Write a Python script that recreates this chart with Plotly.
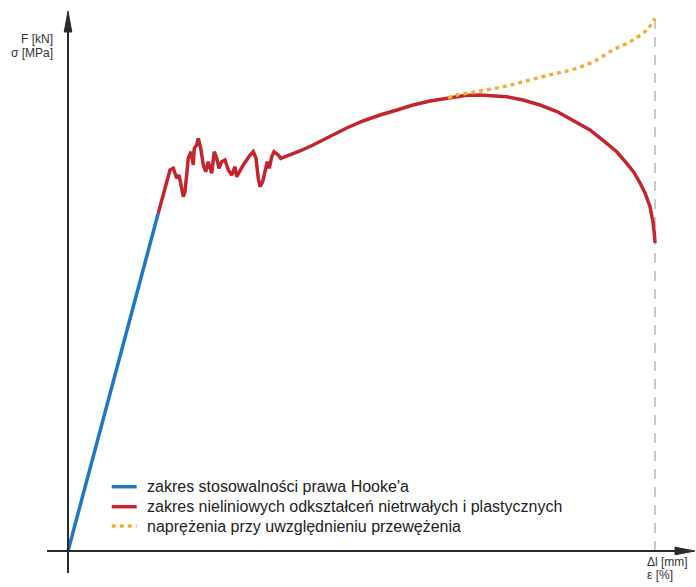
import plotly.graph_objects as go

# Elongation (x) and force/stress (y) in arbitrary units
hooke_x = [0, 90.3]
hooke_y = [0, 338]

plastic_x = [90.3, 102, 105.3, 108.7, 111, 115.3, 117, 120.3, 123, 125.3, 126.3, 128.7, 130.3,
             132.7, 135.3, 137.7, 140.3, 143.7, 146.3, 148.7, 151, 153.7, 157, 160.3, 163.7,
             167, 168.7, 172, 175.3, 178.7, 182, 185.3, 188, 190.3, 192, 194.7, 197, 199.3,
             201.3, 203.7, 206, 210.3, 212.7, 222, 232, 245, 262, 278.7, 295, 312, 329, 345,
             362, 378.7, 397, 412, 426, 438.7, 455, 472, 489, 505, 522, 538.7, 549, 558.7,
             566, 572, 577, 582, 585, 586.5, 587]
plastic_y = [338, 381, 382.7, 372.7, 376, 354.3, 359.3, 392.7, 399.3, 386, 402.7, 406, 412.7,
             402.7, 386, 379.3, 389.3, 377.7, 399.3, 392.7, 382.7, 389.3, 391, 381, 376,
             384.3, 374.3, 381, 386, 391, 396, 399.3, 392.7, 372.7, 364.3, 369.3, 377.7, 389.3,
             382.7, 394.3, 399.3, 396, 392.7, 396, 400, 406, 415, 423, 430, 436, 441, 446,
             450, 452.7, 455.5, 456, 455.5, 454.3, 451, 446, 439.5, 431, 421, 407.7, 399, 387.7,
             378.5, 368, 358, 344.3, 329, 316, 308]

necking_x = [380, 388.7, 405.3, 422, 438.7, 455.3, 472, 488.7, 505.3, 525.3, 545, 562, 578.7, 587]
necking_y = [452.8, 456, 458.7, 461.7, 465, 469.3, 473.7, 477.7, 481.7, 489.3, 501, 509.3, 521, 532.7]

break_x = 587
break_top = 533

legend_names = [
    "zakres stosowalności prawa Hooke'a",
    "zakres nieliniowych odkształceń nietrwałych i plastycznych",
    "naprężenia przy uwzględnieniu przewężenia",
]
y_labels = ["F [kN]", "σ [MPa]"]
x_labels = ["Δl [mm]", "ε [%]"]

BLUE = "#1f78c1"
RED = "#c3262e"
ORANGE = "#f0ae3c"
AXIS = "#2b2b2b"
FONT = "Liberation Sans, Arial, sans-serif"

fig = go.Figure()
fig.add_trace(go.Scatter(x=hooke_x, y=hooke_y, mode="lines", name=legend_names[0],
                         line=dict(color=BLUE, width=3.5), showlegend=False, hoverinfo="skip"))
fig.add_trace(go.Scatter(x=plastic_x, y=plastic_y, mode="lines", name=legend_names[1],
                         line=dict(color=RED, width=3.5), showlegend=False, hoverinfo="skip"))
fig.add_trace(go.Scatter(x=necking_x, y=necking_y, mode="lines", name=legend_names[2],
                         line=dict(color=ORANGE, width=3.5, dash="4px,4px", shape="spline"),
                         showlegend=False, hoverinfo="skip"))

shapes = [
    # vertical dashed line at break
    dict(type="line", xref="x", yref="y", x0=break_x, x1=break_x, y0=0, y1=break_top,
         line=dict(color="#c8c8c8", width=2, dash="10px,8px"), layer="below"),
    # y axis
    dict(type="line", xref="x", yref="y", x0=0, x1=0, y0=-22, y1=522,
         line=dict(color=AXIS, width=2)),
    dict(type="path", xref="x", yref="y", path="M -3.8,519 L 3.8,519 L 0,540 Z",
         fillcolor=AXIS, line=dict(color=AXIS, width=1)),
    # x axis
    dict(type="line", xref="x", yref="y", x0=-21, x1=610, y0=0, y1=0,
         line=dict(color=AXIS, width=2)),
    dict(type="path", xref="x", yref="y", path="M 607,3.8 L 607,-3.8 L 627,0 Z",
         fillcolor=AXIS, line=dict(color=AXIS, width=1)),
]

# manual legend
leg_rows = [64.3, 44.3, 25.0]
leg_styles = [dict(color=BLUE, width=3.5), dict(color=RED, width=3.5),
              dict(color=ORANGE, width=3.5, dash="4px,4px")]
for yy, st in zip(leg_rows, leg_styles):
    shapes.append(dict(type="line", xref="x", yref="y", x0=43.7, x1=68.7, y0=yy, y1=yy,
                       line=st))

annotations = []
for yy, name in zip(leg_rows, legend_names):
    annotations.append(dict(x=77, y=yy, xref="x", yref="y", text=name, showarrow=False,
                            xanchor="left", yanchor="middle",
                            font=dict(family=FONT, size=16, color="#222222")))

lab_font = dict(family=FONT, size=12, color="#333333")
annotations += [
    dict(x=-13, y=512, xref="x", yref="y", text=y_labels[0], showarrow=False,
         xanchor="right", yanchor="middle", font=lab_font),
    dict(x=-13, y=498, xref="x", yref="y", text=y_labels[1], showarrow=False,
         xanchor="right", yanchor="middle", font=lab_font),
    dict(x=577, y=-11, xref="x", yref="y", text=x_labels[0], showarrow=False,
         xanchor="left", yanchor="middle", font=lab_font),
    dict(x=577, y=-24, xref="x", yref="y", text=x_labels[1], showarrow=False,
         xanchor="left", yanchor="middle", font=lab_font),
]

fig.update_layout(
    width=696, height=587,
    margin=dict(l=0, r=0, t=0, b=0, pad=0),
    paper_bgcolor="white", plot_bgcolor="white",
    xaxis=dict(range=[-68, 628], visible=False, fixedrange=True),
    yaxis=dict(range=[-36, 551], visible=False, fixedrange=True),
    shapes=shapes,
    annotations=annotations,
    showlegend=False,
    hovermode=False,
)

fig.write_html(
    "out.html",
    config={"displayModeBar": False, "staticPlot": True},
    post_script="document.body.style.margin='0';document.body.style.overflow='hidden';",
)
